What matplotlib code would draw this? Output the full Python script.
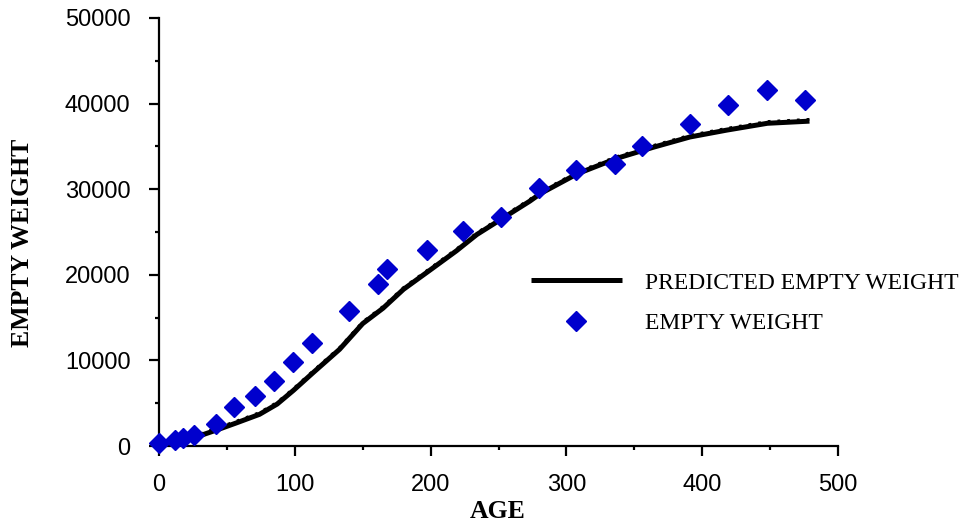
import matplotlib
matplotlib.use("Agg")
import matplotlib.pyplot as plt
from matplotlib.ticker import MultipleLocator
from matplotlib.transforms import offset_copy

# observed empty weight
age_obs = [0, 12, 18, 26, 42, 55, 71, 85, 99, 113, 140, 161, 168, 197, 224,
           252, 280, 307, 336, 356, 391, 419, 448, 476]
weight_obs = [300, 700, 900, 1300, 2600, 4600, 5800, 7600, 9800, 12000, 15800,
              18900, 20700, 22900, 25100, 26700, 30100, 32200, 32900, 35100,
              37600, 39800, 41600, 40400]

# predicted empty weight curve
age_pred = [10, 18, 30, 43, 57, 74, 87, 99, 113, 133, 150, 165, 180, 200, 219,
            234, 253, 273, 281, 308, 337, 364, 391, 418, 448, 479]
weight_pred = [150, 700, 1200, 1900, 2700, 3700, 4900, 6500, 8500, 11300, 14300,
               16100, 18300, 20600, 22800, 24700, 26600, 28600, 29500, 31800,
               33600, 34900, 36100, 36900, 37700, 37950]

fig = plt.figure(figsize=(9.66, 5.23), dpi=100)
ax = fig.add_axes([0.1646, 0.1472, 0.7029, 0.8184])

ax.plot(age_pred, weight_pred, color="black", lw=3.6, solid_capstyle="butt",
        label="PREDICTED EMPTY WEIGHT", zorder=2)
# dotted texture sitting on top of the curve
ax.plot(age_pred, weight_pred, color="black", lw=2.0, ls=(0, (1, 2.5)),
        transform=offset_copy(ax.transData, fig=fig, x=0, y=1.8, units="dots"),
        zorder=2)
ax.plot(age_obs, weight_obs, ls="none", marker="D", ms=10, color="#0000CD",
        mec="#0000CD", label="EMPTY WEIGHT", zorder=3, clip_on=False)

ax.set_xlim(0, 500)
ax.set_ylim(0, 50000)
ax.xaxis.set_major_locator(MultipleLocator(100))
ax.xaxis.set_minor_locator(MultipleLocator(50))
ax.yaxis.set_major_locator(MultipleLocator(10000))
ax.yaxis.set_minor_locator(MultipleLocator(5000))

for s in ["top", "right"]:
    ax.spines[s].set_visible(False)
for s in ["left", "bottom"]:
    ax.spines[s].set_linewidth(1.6)

ax.tick_params(which="major", direction="out", length=7.5, width=1.6,
               labelsize=17, pad=13)
ax.tick_params(which="minor", direction="out", length=2.8, width=1.6)
for lab in ax.get_xticklabels() + ax.get_yticklabels():
    lab.set_family("Liberation Sans")

fig.text(498 / 966, 1 - 511 / 523, "AGE", family="Liberation Serif",
         fontweight="bold", fontsize=18.5, ha="center", va="center")
fig.text(22.5 / 966, 1 - 243 / 523, "EMPTY WEIGHT", family="Liberation Serif",
         fontweight="bold", fontsize=18.5, ha="center", va="center",
         rotation=90)

leg = ax.legend(loc="upper left", bbox_to_anchor=(531 / 966, 1 - 272 / 523),
                bbox_transform=fig.transFigure, frameon=False,
                borderpad=0, borderaxespad=0,
                prop={"family": "Liberation Serif", "size": 17},
                handlelength=3.85, handletextpad=0.97, labelspacing=0.8,
                numpoints=1)

fig.savefig("out.png", dpi=100)
